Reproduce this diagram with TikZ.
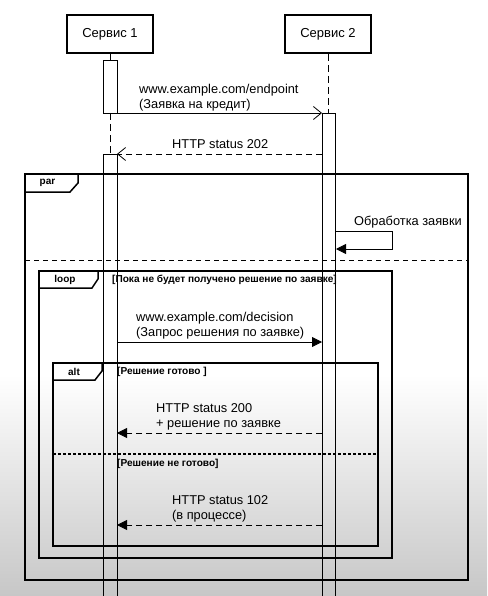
\documentclass[tikz,border=0pt]{standalone}
\usepackage{fontspec}
\setmainfont{Liberation Sans}
\usetikzlibrary{arrows.meta}
\begin{document}
\begin{tikzpicture}[x=1pt,y=-1pt,
  actor/.style={draw,line width=1.8pt,minimum width=86pt,minimum height=38pt,inner sep=0pt,font=\fontsize{13}{15}\selectfont},
  bar/.style={draw,line width=0.9pt},
  frame/.style={draw,line width=1.5pt},
  tab/.style={draw,line width=1.5pt,fill=white},
  tabtext/.style={inner sep=0pt,font=\bfseries\fontsize{10}{11}\selectfont},
  lbl/.style={anchor=west,align=left,inner sep=0pt,font=\fontsize{12.8}{14.8}\selectfont},
  guard/.style={anchor=west,inner sep=0pt,font=\bfseries\fontsize{10.1}{11}\selectfont},
  life/.style={draw,line width=0.8pt,dash pattern=on 7pt off 4pt},
  openmsg/.style={draw,line width=0.8pt,-{Straight Barb[length=8pt,width=13pt,line width=0.8pt]}},
  fullmsg/.style={draw,line width=0.8pt,-{Triangle[length=10pt,width=10pt]}},
  dashmsg/.style={dash pattern=on 6pt off 4pt}
]
\useasboundingbox (0,0) rectangle (487,596);
\fill[white] (0,0) rectangle (487,596);
\shade[top color=white,bottom color=black!22] (0,375) rectangle (487,596);

% actors
\node[actor] (s1) at (110,34) {Сервис 1};
\node[actor] (s2) at (328,34) {Сервис 2};

% coordinates
\coordinate (l1a) at (110,60);
\coordinate (l2a) at (328,113);
\coordinate (a1e) at (117,113);
\coordinate (a2s) at (322,113);
\coordinate (r1s) at (322,154);
\coordinate (r1e) at (117,154);
\coordinate (l1b) at (110,113);
\coordinate (l1c) at (110,154);

% lifelines
\draw[line width=0.8pt] (s1.south) -- (l1a);
\path[life] (s2.south) -- (l2a);
\path[life] (l1b) -- (l1c);

% activation bars
\draw[bar] (103,60) rectangle (117,113);
\draw[bar] (103,597) -- (103,154) -- (117,154) -- (117,597);
\draw[bar] (322,597) -- (322,113) -- (335,113) -- (335,597);

% message 1
\path[openmsg] (a1e) -- (a2s);
\node[lbl] (m1) at (139,97.5) {www.example.com/endpoint\\(Заявка на кредит)};
% return 202
\path[openmsg,dashmsg] (r1s) -- (r1e);
\node[lbl] (m2) at (172,144) {HTTP status 202};

% par frame
\draw[frame] (25,174) rectangle (468,580);
\draw[tab] (25,174) -- (78,174) -- (78,183) -- (70,192) -- (25,192) -- cycle;
\node[tabtext] (tpar) at (47.5,183) {par};
\draw[line width=1pt,dash pattern=on 5pt off 4pt] (25,260) -- (468,260);

% self message
\coordinate (sm1) at (336,231);
\coordinate (sm2) at (392,231);
\coordinate (sm3) at (392,249);
\coordinate (sm4) at (336,249);
\path[fullmsg] (sm1) -- (sm2) -- (sm3) -- (sm4);
\node[lbl] (m3) at (354,222) {Обработка заявки};

% loop frame
\draw[frame] (39,271) rectangle (392,558);
\draw[tab] (39,271) -- (98,271) -- (98,279) -- (92,288) -- (39,288) -- cycle;
\node[tabtext] (tloop) at (65,279.5) {loop};
\node[guard] (g1) at (112,280) {[Пока не будет получено решение по заявке]};

% decision message
\coordinate (d1) at (117,342);
\coordinate (d2) at (322,342);
\path[fullmsg] (d1) -- (d2);
\node[lbl] (m4) at (136,325.5) {www.example.com/decision\\(Запрос решения по заявке)};

% alt frame
\draw[frame] (53,363) rectangle (378,546);
\draw[tab] (53,363) -- (102,363) -- (102,371) -- (95,380) -- (53,380) -- cycle;
\node[tabtext] (talt) at (74,371.5) {alt};
\node[guard] (g2) at (117,371.5) {[Решение готово ]};

% return 200
\coordinate (r2s) at (322,433);
\coordinate (r2e) at (117,433);
\path[fullmsg,dashmsg] (r2s) -- (r2e);
\node[lbl] (m5) at (156,416.5) {HTTP status 200\\+ решение по заявке};

% alt divider
\draw[line width=1.2pt,dash pattern=on 2.5pt off 2.5pt] (53,454) -- (378,454);
\node[guard] (g3) at (117,463.5) {[Решение не готово]};

% return 102
\coordinate (r3s) at (322,525);
\coordinate (r3e) at (117,525);
\path[fullmsg,dashmsg] (r3s) -- (r3e);
\node[lbl] (m6) at (172,508.5) {HTTP status 102\\(в процессе)};
\end{tikzpicture}
\end{document}
